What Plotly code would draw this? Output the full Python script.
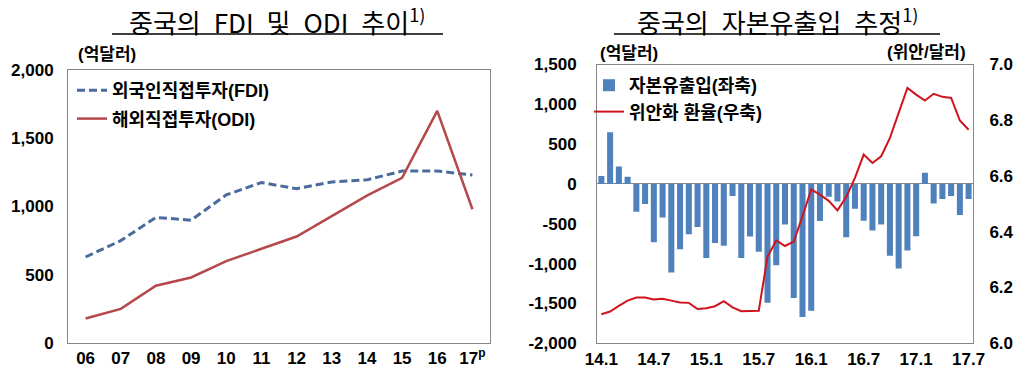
import plotly.graph_objects as go

# ---------------- data ----------------
years = ["06", "07", "08", "09", "10", "11", "12", "13", "14", "15", "16", "17"]
year_labels = ["06", "07", "08", "09", "10", "11", "12", "13", "14", "15", "16", "17<sup>p</sup>"]
fdi = [630, 750, 920, 900, 1085, 1176, 1130, 1180, 1195, 1260, 1260, 1230]
odi = [180, 250, 420, 480, 600, 690, 780, 930, 1080, 1210, 1700, 980]

months = [f"{y}.{m}" for y in range(14, 18) for m in range(1, 13)][:43]
capital_flow = [100, 650, 220, 90, -350, -250, -730, -420, -1110, -820, -630, -540,
                -930, -740, -775, -150, -930, -660, -850, -1490, -1020, -510, -1430, -1670,
                -1590, -465, -160, -220, -670, -310, -460, -585, -510, -900, -1060, -835,
                -655, 140, -245, -190, -150, -390, -190]
cny_rate = [6.104, 6.114, 6.134, 6.153, 6.164, 6.164, 6.157, 6.160, 6.153, 6.146, 6.145, 6.123,
            6.126, 6.133, 6.151, 6.129, 6.115, 6.116, 6.117, 6.311, 6.369, 6.349, 6.365, 6.456,
            6.552, 6.533, 6.511, 6.477, 6.525, 6.593, 6.677, 6.647, 6.671, 6.737, 6.826, 6.916,
            6.892, 6.871, 6.895, 6.884, 6.880, 6.799, 6.766]
month_ticks = ["14.1", "14.7", "15.1", "15.7", "16.1", "16.7", "17.1", "17.7"]

left_ticks = [0, 500, 1000, 1500, 2000]
left_tick_text = ["0", "500", "1,000", "1,500", "2,000"]
flow_ticks = [-2000, -1500, -1000, -500, 0, 500, 1000, 1500]
flow_tick_text = ["-2,000", "-1,500", "-1,000", "-500", "0", "500", "1,000", "1,500"]
rate_ticks = [6.0, 6.2, 6.4, 6.6, 6.8, 7.0]
rate_tick_text = ["6.0", "6.2", "6.4", "6.6", "6.8", "7.0"]

# ---------------- figure ----------------
OFF = 8  # page body margin
W, H = 1024 - OFF, 372 - OFF
def px(x):
    return (x - OFF) / W
def py(y):
    return 1 - (y - OFF) / H

FONT = "Liberation Sans, Arial, Noto Sans CJK KR, sans-serif"
KFONT = "Noto Sans CJK KR, sans-serif"
GRID = "#868686"

fig = go.Figure()

fig.add_trace(go.Scatter(x=years, y=fdi, mode="lines", name="외국인직접투자(FDI)",
                         line=dict(color="#4A6C9C", width=3, dash="8px,4px"),
                         xaxis="x", yaxis="y", legend="legend", legendgroup="a"))
fig.add_trace(go.Scatter(x=years, y=odi, mode="lines", name="해외직접투자(ODI)",
                         line=dict(color="#B5484B", width=2.5),
                         xaxis="x", yaxis="y", legend="legend", legendgroup="b"))

fig.add_trace(go.Bar(x=months, y=capital_flow, name="자본유출입(좌축)",
                     marker=dict(color="#4F81BD", line=dict(width=0)),
                     xaxis="x2", yaxis="y2", legend="legend2", legendgroup="c"))
fig.add_trace(go.Scatter(x=months, y=cny_rate, mode="lines", name="위안화 환율(우축)",
                         line=dict(color="#D0141E", width=2),
                         xaxis="x2", yaxis="y3", legend="legend2", legendgroup="d"))

axis_common = dict(showline=True, mirror=True, linecolor=GRID, linewidth=1,
                   showgrid=False, zeroline=False, ticks="", automargin=False,
                   tickfont=dict(family=FONT, size=17, color="black", weight="bold"))

fig.update_layout(
    width=W, height=H,
    margin=dict(l=0, r=0, t=0, b=0, pad=0, autoexpand=False),
    paper_bgcolor="white", plot_bgcolor="white",
    showlegend=True,
    bargap=0.31,
    xaxis=dict(domain=[px(68), px(490)], type="category", range=[-0.5, 11.5],
               tickvals=years, ticktext=year_labels, anchor="y", **axis_common),
    yaxis=dict(domain=[py(343), py(70)], range=[0, 2000], tickvals=left_ticks,
               ticktext=left_tick_text, anchor="x", ticklabelstandoff=10, **axis_common),
    xaxis2=dict(domain=[px(597), px(973)], type="category", range=[-0.5, 42.5],
                tickvals=month_ticks, ticktext=month_ticks, anchor="y2", **axis_common),
    yaxis2=dict(domain=[py(343.3), py(64.5)], range=[-2000, 1500], tickvals=flow_ticks,
                ticktext=flow_tick_text, anchor="x2", ticklabelstandoff=16,
                **{**axis_common, "zeroline": True}, zerolinecolor=GRID, zerolinewidth=1),
    yaxis3=dict(domain=[py(343.3), py(64.5)], range=[6.0, 7.0], tickvals=rate_ticks,
                ticktext=rate_tick_text, anchor="x2", overlaying="y2", side="right",
                ticklabelstandoff=12, **{**axis_common, "mirror": False}),
    legend=dict(x=px(72), y=py(72), xanchor="left", yanchor="top",
                bgcolor="rgba(0,0,0,0)", traceorder="grouped", tracegroupgap=2,
                font=dict(family=FONT, size=18, color="black", weight="bold")),
    legend2=dict(x=px(589), y=py(67), xanchor="left", yanchor="top",
                 bgcolor="rgba(0,0,0,0)", traceorder="grouped", tracegroupgap=0,
                 font=dict(family=FONT, size=18, color="black", weight="bold")),
)

# titles
title_font = dict(family=KFONT, size=26, color="black")
fig.add_annotation(text="중국의\u2002FDI\u2002및\u2002ODI\u2002추이<sup>1)</sup>",
                   x=px(277), y=py(21), xref="paper", yref="paper",
                   showarrow=False, font=title_font, xanchor="center", yanchor="middle")
fig.add_annotation(text="중국의\u2002자본유출입\u2002추정<sup>1)</sup>",
                   x=px(777), y=py(21), xref="paper", yref="paper",
                   showarrow=False, font=title_font, xanchor="center", yanchor="middle")
fig.add_shape(type="line", xref="paper", yref="paper", x0=px(112), x1=px(443),
              y0=py(34), y1=py(34), line=dict(color="black", width=1.5))
fig.add_shape(type="line", xref="paper", yref="paper", x0=px(614), x1=px(940),
              y0=py(34), y1=py(34), line=dict(color="black", width=1.5))

unit_font = dict(family=FONT, size=17, color="black", weight="bold")
for txt, cx, cy in [("(억달러)", 107, 54), ("(억달러)", 629, 53), ("(위안/달러)", 926, 52)]:
    fig.add_annotation(text=txt, x=px(cx), y=py(cy), xref="paper", yref="paper",
                       showarrow=False, font=unit_font, xanchor="center", yanchor="middle")

fig.write_html("out.html")
